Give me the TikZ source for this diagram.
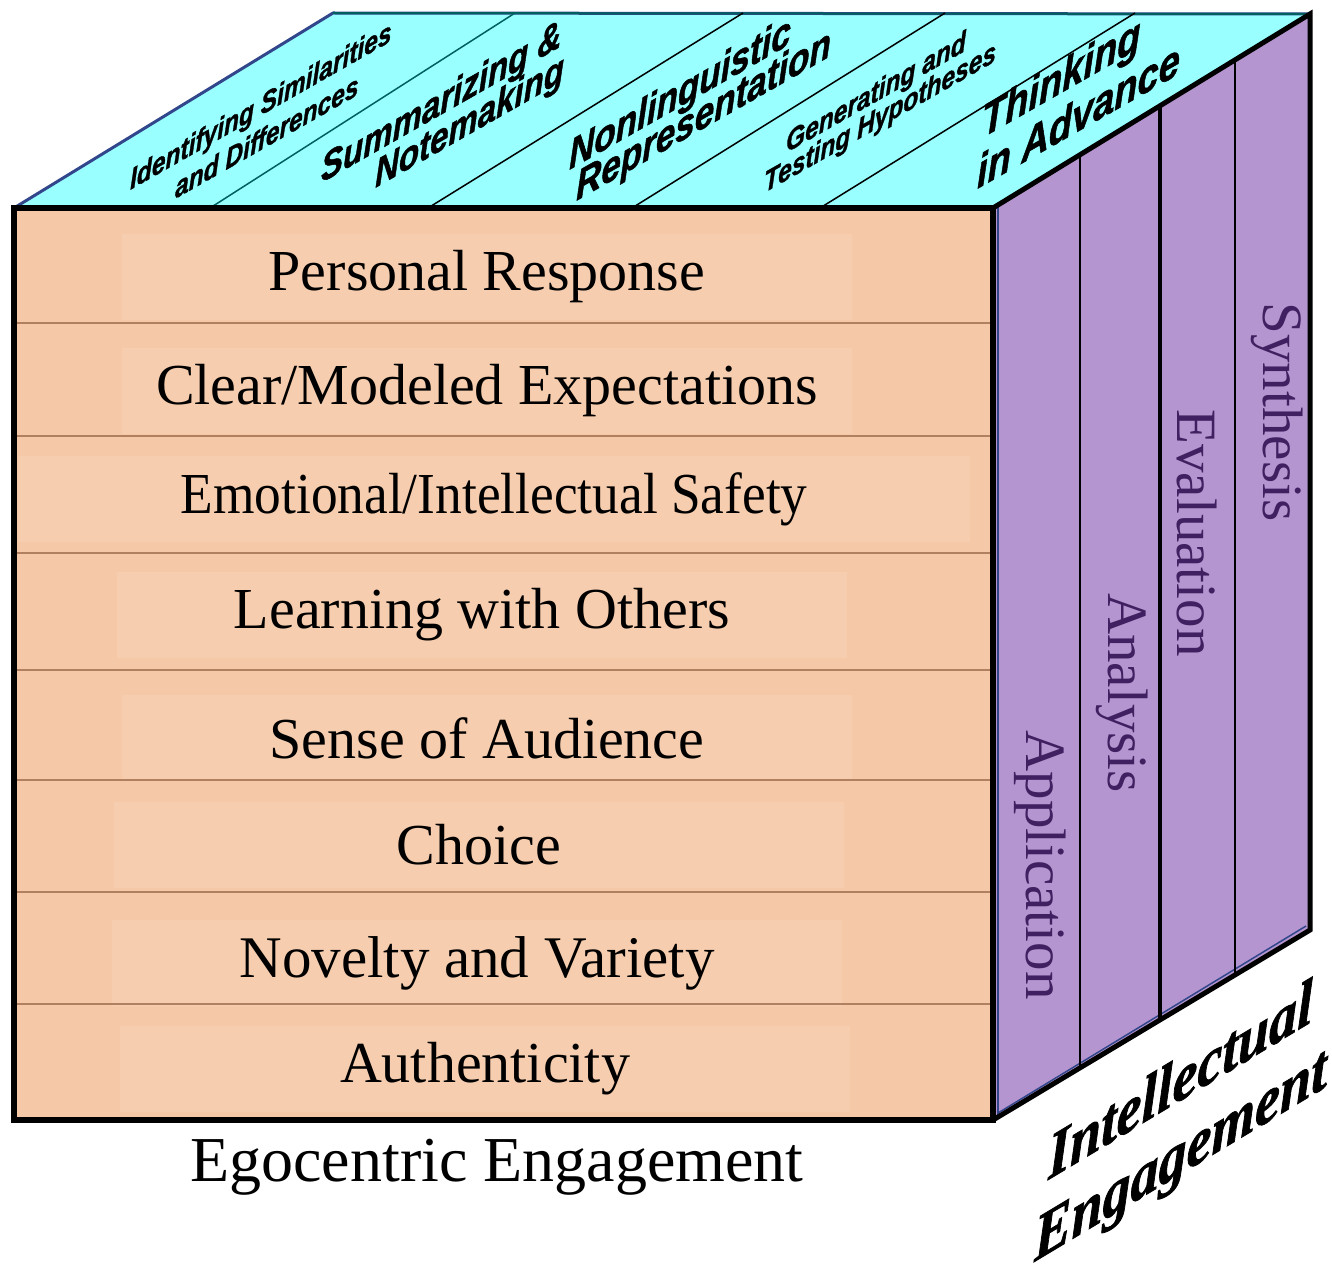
\documentclass[tikz,border=0pt]{standalone}
\usepackage{fontspec}
\usepackage{graphicx}
\setmainfont{Liberation Serif}
\newfontfamily\arialhv{Liberation Sans Bold Italic}[FakeBold=1.3]
\newfontfamily\timesbi{Liberation Serif Bold Italic}[FakeBold=1.3]
\definecolor{peach}{RGB}{245,200,168}
\definecolor{peachlt}{RGB}{246,205,174}
\definecolor{rowbrown}{RGB}{176,128,96}
\definecolor{cyanf}{RGB}{153,255,255}
\definecolor{lav}{RGB}{181,149,207}
\definecolor{purpletxt}{RGB}{64,32,96}
\definecolor{navy}{RGB}{50,70,140}
\definecolor{darkteal}{RGB}{0,96,96}
\begin{document}
\begin{tikzpicture}[x=1pt,y=-1pt,
  rowtext/.style={fill=peachlt, minimum width=730pt, minimum height=86pt, inner sep=0pt, font=\fontsize{58}{62}\selectfont},
  toplabel/.style={yslant=0.57, yscale=1.2, anchor=base west, inner sep=0pt},
  sidelabel/.style={rotate=-90, text=purpletxt, inner sep=0pt, font=\fontsize{57}{60}\selectfont},
  axislabel/.style={inner sep=0pt, yslant=0.6, yscale=1.15, anchor=base west, font=\timesbi\fontsize{56}{60}\selectfont},
  rowline/.style={draw=rowbrown, line width=1.5pt},
  divline/.style={line width=1.5pt}]
\useasboundingbox (0,0) rectangle (1332,1271);
% corners
\coordinate (FTL) at (14,208);
\coordinate (FTR) at (993,208);
\coordinate (FBR) at (993,1120);
\coordinate (FBL) at (14,1120);
\coordinate (BTL) at (333,13);
\coordinate (BTR) at (1310,14);
\coordinate (BBR) at (1310,930);
% top face
\filldraw[fill=cyanf, draw=navy, line width=3pt, line join=round] (FTL) -- (BTL) -- (BTR) -- (FTR) -- cycle;
\draw[darkteal, line width=2pt] (BTL) -- (BTR);
\draw[darkteal, line width=1.5pt] (210,208) -- (515,13);
\draw[divline] (428,208) -- (743,13);
\draw[divline] (632,208) -- (945,13);
\draw[divline] (820,208) -- (1135,13);
\begin{scope}[every node/.style={toplabel}]
\node[font=\arialhv\fontsize{24.5}{26}\selectfont] (t1a) at (130,190) {Identifying Similarities};
\node[font=\arialhv\fontsize{24.5}{26}\selectfont] (t1b) at (175,199) {and Differences};
\node[font=\arialhv\fontsize{33}{35}\selectfont] (t2a) at (321,183) {Summarizing \&};
\node[font=\arialhv\fontsize{33}{35}\selectfont] (t2b) at (375,188) {Notemaking};
\node[font=\arialhv\fontsize{35}{37}\selectfont] (t3a) at (569,170) {Nonlinguistic};
\node[font=\arialhv\fontsize{35}{37}\selectfont] (t3b) at (576,201) {Representation};
\node[font=\arialhv\fontsize{24.5}{26}\selectfont] (t4a) at (786,153) {Generating and};
\node[font=\arialhv\fontsize{24.5}{26}\selectfont] (t4b) at (764,193) {Testing Hypotheses};
\node[font=\arialhv\fontsize{38}{40}\selectfont] (t5a) at (982,138) {Thinking};
\node[font=\arialhv\fontsize{38}{40}\selectfont] (t5b) at (977,189) {in Advance};
\end{scope}
% right face
\fill[lav] (FTR) -- (BTR) -- (BBR) -- (FBR) -- cycle;
\draw[navy, line width=1.5pt] (998,205) -- (998,1115);
\draw[navy, line width=1.5pt] (998,1113) -- (1306,926);
\draw[line width=2pt] (1080,155) -- (1080,1068);
\draw[line width=4pt] (1160,106) -- (1160,1020);
\draw[line width=2pt] (1235,60) -- (1235,975);
\draw[line width=5pt, line join=miter] (FTR) -- (BTR) -- (BBR) -- (FBR);
\node[sidelabel] (s1) at (1040,865) {Application};
\node[sidelabel] (s2) at (1122,693) {Analysis};
\node[sidelabel] (s3) at (1197,533) {Evaluation};
\node[sidelabel] (s4) at (1277,412) {Synthesis};
% front face
\fill[peach] (FTL) rectangle (FBR);
\node[rowtext] (r1) at (487,277) {Personal Response};
\node[rowtext] (r2) at (487,391) {Clear/Modeled Expectations};
\node[rowtext, minimum width=952pt] (r3) at (494,499) {\scalebox{0.92}[1]{Emotional/Intellectual Safety}};
\node[rowtext] (r4) at (482,615) {Learning with Others};
\node[rowtext] (r5) at (487,738) {Sense of Audience};
\node[rowtext] (r6) at (479,845) {Choice};
\node[rowtext, font=\fontsize{59}{62}\selectfont] (r7) at (477,963) {Novelty and Variety};
\node[rowtext] (r8) at (485,1069) {Authenticity};
\foreach \yy in {323,436,553,670,780,892,1004} \draw[rowline] (16,\yy) -- (991,\yy);
\draw[line width=6pt, line join=miter] (FTL) rectangle (FBR);
% axis labels
\node[inner sep=0pt, font=\fontsize{64}{66}\selectfont] (ego) at (497,1167) {Egocentric Engagement};
\node[axislabel] (intel1) at (1048,1180) {Intellectual};
\node[axislabel] (intel2) at (1034,1262) {Engagement};
\end{tikzpicture}
\end{document}
